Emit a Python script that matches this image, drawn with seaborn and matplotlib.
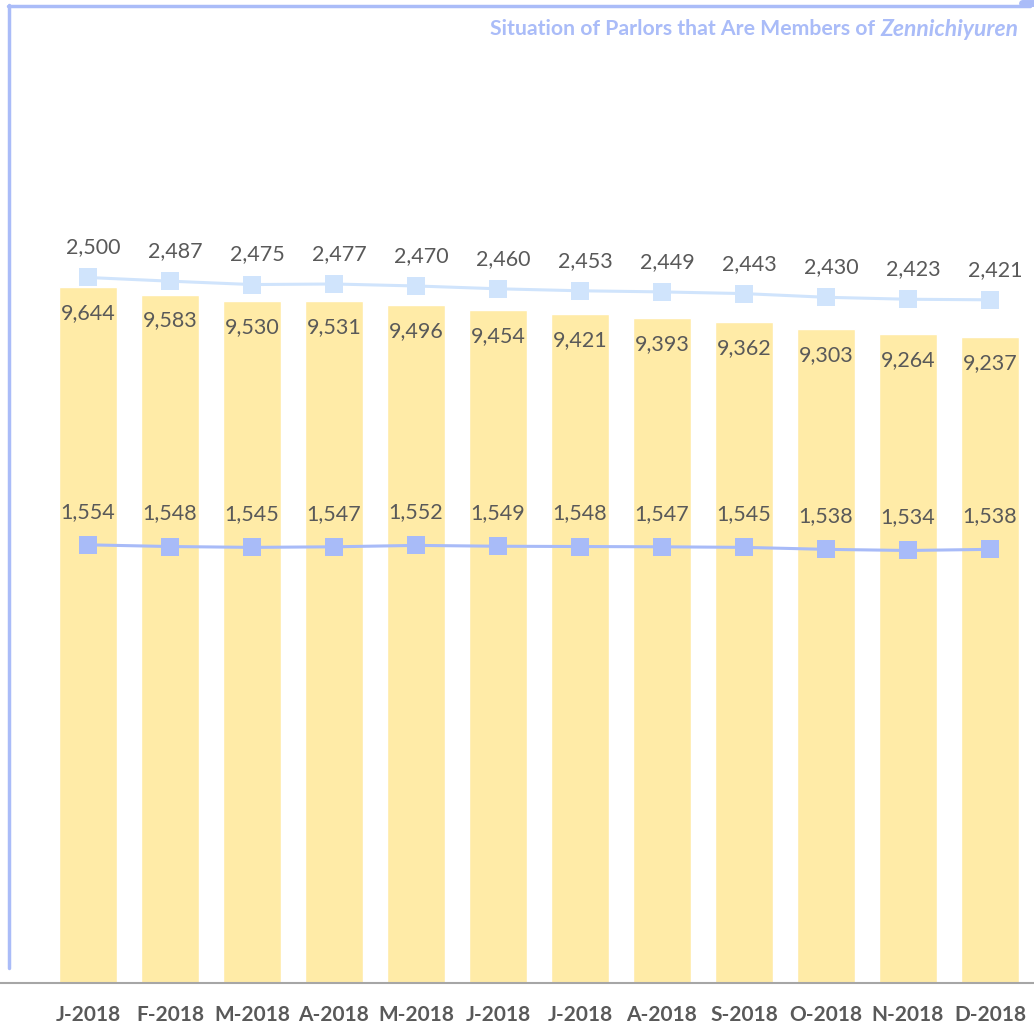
import matplotlib
matplotlib.use("Agg")
import matplotlib.pyplot as plt
from matplotlib.lines import Line2D
import seaborn as sns
import pandas as pd

sns.set_theme(style="white")
plt.rcParams["font.family"] = ["Lato", "DejaVu Sans"]

months = ["J-2018", "F-2018", "M-2018", "A-2018", "M-2018", "J-2018",
          "J-2018", "A-2018", "S-2018", "O-2018", "N-2018", "D-2018"]
bar_vals = [9644, 9583, 9530, 9531, 9496, 9454, 9421, 9393, 9362, 9303, 9264, 9237]
upper_line = [2500, 2487, 2475, 2477, 2470, 2460, 2453, 2449, 2443, 2430, 2423, 2421]
lower_line = [1554, 1548, 1545, 1547, 1552, 1549, 1548, 1547, 1545, 1538, 1534, 1538]

BAR_C = "#FFEBA7"
UP_C = "#D0E4FC"
LOW_C = "#A8BBF8"
TXT_C = "#595959"
FRAME_C = "#AABCF8"

W, H = 1034, 1026
fig = plt.figure(figsize=(W / 100, H / 100), dpi=100)
ax = fig.add_axes([0, 43 / H, 1, 983 / H])

df = pd.DataFrame({"pos": range(12), "val": bar_vals})
sns.barplot(data=df, x="pos", y="val", color=BAR_C, saturation=1,
            width=0.707, ax=ax)
ax.set_xlim(-88 / 82, 11 + 44 / 82)
ax.set_ylim(3981, 3981 + 983 / 0.1229)
ax.set_xticks(range(12))
ax.set_xticklabels(months, fontsize=15, fontweight="bold", color=TXT_C)
ax.tick_params(axis="x", length=0, pad=16)
ax.set_yticks([])
ax.set_xlabel("")
ax.set_ylabel("")
for s in ["top", "left", "right"]:
    ax.spines[s].set_visible(False)
ax.spines["bottom"].set_color("#A6A6A6")
ax.spines["bottom"].set_linewidth(1.5)

# bar values sit just inside the bar tops
for i, v in enumerate(bar_vals):
    ax.annotate(f"{v:,}", (i, v), xytext=(0, -26), textcoords="offset pixels",
                ha="center", va="center", fontsize=15.5, color=TXT_C)

ax2 = ax.twinx()
lines = pd.DataFrame({"pos": list(range(12)) * 2,
                      "val": upper_line + lower_line,
                      "series": ["upper"] * 12 + ["lower"] * 12})
sns.lineplot(data=lines, x="pos", y="val", hue="series",
             palette={"upper": UP_C, "lower": LOW_C}, marker="s",
             markersize=13, markeredgewidth=0, linewidth=2.2,
             legend=False, ax=ax2)
ax2.set_ylim(3.5, 3.5 + 983 / 0.2826)
ax2.set_yticks([])
ax2.set_ylabel("")
ax2.set_xlabel("")
for s in ax2.spines.values():
    s.set_visible(False)

for i, v in enumerate(upper_line):
    ax2.annotate(f"{v:,}", (i, v), xytext=(5, 30), textcoords="offset pixels",
                 ha="center", va="center", fontsize=15.5, color=TXT_C)
for i, v in enumerate(lower_line):
    ax2.annotate(f"{v:,}", (i, v), xytext=(0, 33), textcoords="offset pixels",
                 ha="center", va="center", fontsize=15.5, color=TXT_C)

# frame lines at top-left
fig.add_artist(Line2D([8 / W, 1030 / W], [1 - 5.5 / H, 1 - 5.5 / H],
                      color=FRAME_C, linewidth=2.5, transform=fig.transFigure))
fig.add_artist(Line2D([8.5 / W, 8.5 / W], [1 - 5 / H, 1 - 968 / H],
                      color=FRAME_C, linewidth=2.5, transform=fig.transFigure))
fig.add_artist(Line2D([1022 / W, 1034 / W], [1 - 3 / H, 1 - 3 / H],
                      color=FRAME_C, linewidth=5, transform=fig.transFigure))

t1 = fig.text(490 / W, 1 - 29 / H, "Situation of Parlors that Are Members of ",
              fontsize=15.3, fontweight="bold", color=FRAME_C, va="center")
ax.annotate("Zennichiyuren", xy=(1, 0.5), xycoords=t1, va="center",
            ha="left", fontsize=16.5, fontweight="bold", fontstyle="italic",
            color=FRAME_C, annotation_clip=False)

fig.savefig("out.png", dpi=100)
